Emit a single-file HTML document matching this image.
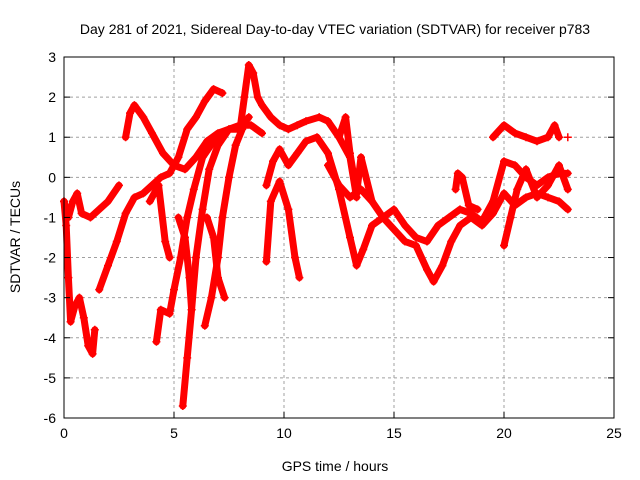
<!DOCTYPE html>
<html><head><meta charset="utf-8"><style>
body{margin:0;background:#fff;}
svg{display:block;font-family:"Liberation Sans",sans-serif;}
</style></head><body>
<svg id="chart" width="640" height="480">
<rect width="640" height="480" fill="#fff"/>
<text x="335" y="34" text-anchor="middle" font-size="14">Day 281 of 2021, Sidereal Day-to-day VTEC variation (SDTVAR) for receiver p783</text>
<text x="335" y="471" text-anchor="middle" font-size="14">GPS time / hours</text>
<text transform="translate(20,237) rotate(-90)" text-anchor="middle" font-size="14">SDTVAR / TECUs</text>
<g id="grid"></g><g id="series"></g><g id="axes"></g>
</svg>
<script>
const xTicks=[0,5,10,15,20,25];
const yTicks=[3,2,1,0,-1,-2,-3,-4,-5,-6];
const traces=[
[[0,-0.6],[0.1,-1.2],[0.2,-2.5],[0.3,-3.6],[0.5,-3.2],[0.7,-3.0],[0.9,-3.5],[1.1,-4.2],[1.3,-4.4],[1.4,-3.8]],
[[0,-0.6],[0.2,-1.0],[0.4,-0.6],[0.6,-0.4],[0.8,-0.9],[1.2,-1.0],[1.6,-0.8],[2.0,-0.6],[2.5,-0.2]],
[[1.6,-2.8],[2.0,-2.2],[2.4,-1.6],[2.8,-0.9],[3.2,-0.5],[3.6,-0.4],[4.0,-0.2],[4.4,0],[4.8,0.1],[5.2,0.5],[5.6,1.2],[6.0,1.5],[6.4,1.9],[6.8,2.2],[7.2,2.1]],
[[2.8,1.0],[3.0,1.6],[3.2,1.8],[3.6,1.5],[4.0,1.1],[4.5,0.6],[5.0,0.3],[5.5,0.2],[6.0,0.5],[6.5,0.9],[7.0,1.1],[7.5,1.2],[8.0,1.3],[8.5,1.3],[9.0,1.1]],
[[4.2,-4.1],[4.4,-3.3],[4.8,-3.4],[5.0,-2.8],[5.3,-2.0],[5.6,-1.0],[5.9,-0.3],[6.3,0.5],[6.8,0.9],[7.3,1.1]],
[[5.4,-5.7],[5.6,-4.5],[5.8,-3.3],[6.0,-2.0],[6.3,-0.8],[6.6,0.2],[7.0,0.8],[7.5,1.2],[8.0,1.2],[8.4,1.5]],
[[5.2,-1.0],[5.5,-1.5],[5.7,-2.5],[5.8,-3.3]],
[[6.4,-3.7],[6.7,-3.0],[7.0,-2.0],[7.2,-1.0],[7.5,0],[7.8,0.8],[8.1,1.2]],
[[6.5,-1.0],[6.8,-1.5],[7.0,-2.5],[7.3,-3.0]],
[[8.0,1.2],[8.2,2.0],[8.4,2.8],[8.6,2.6],[8.8,2.0],[9.0,1.8],[9.4,1.5],[9.8,1.3],[10.2,1.2],[10.6,1.3],[11.0,1.4],[11.6,1.5],[12.0,1.4],[12.5,1.0],[13.0,0.5],[13.3,-0.5]],
[[9.2,-2.1],[9.4,-0.6],[9.8,-0.1],[10.2,-0.8],[10.5,-2.0],[10.7,-2.5]],
[[9.2,-0.2],[9.5,0.4],[9.8,0.7],[10.2,0.3],[10.6,0.6],[11.0,0.9],[11.5,1.0],[12.0,0.6],[12.5,-0.3],[13.0,-1.5],[13.3,-2.2],[13.6,-1.8],[14.0,-1.2],[14.5,-1.0],[15.0,-1.3],[15.5,-1.6],[16.0,-1.7],[16.5,-2.3],[16.8,-2.6],[17.2,-2.2],[17.6,-1.6],[18.0,-1.2],[18.5,-1.0],[19.0,-1.2],[19.5,-0.9],[20.0,-0.4],[20.5,-0.7],[21.0,-0.5],[21.5,-0.4],[22.0,-0.5],[22.5,-0.6],[22.9,-0.8]],
[[12.0,0.3],[12.5,-0.2],[13.0,-0.5],[13.5,-0.3],[14.0,-0.6],[14.5,-1.0],[15.0,-0.8],[15.5,-1.2],[16.0,-1.5],[16.5,-1.6],[17.0,-1.2],[17.5,-1.0],[18.0,-0.8],[18.5,-0.9],[19.0,-1.1],[19.5,-0.6],[20.0,0.4],[20.5,0.3],[21.0,0],[21.5,-0.2],[22.0,0],[22.5,0.1],[22.9,0.1]],
[[19.5,1.0],[20.0,1.3],[20.5,1.1],[21.0,1.0],[21.5,0.9],[22.0,1.0],[22.3,1.3],[22.5,1.0]],
[[22.9,1.0]],
[[17.8,-0.3],[17.9,0.1],[18.1,0],[18.4,-0.7],[18.8,-0.8]],
[[12.5,1.0],[12.8,1.5],[13.0,0.6],[13.3,-0.4],[13.5,0.5],[14.0,-0.6]],
[[20.0,-1.7],[20.3,-1.0],[20.6,-0.3],[21.0,0.2],[21.5,-0.5],[22.0,-0.2],[22.5,0.3],[22.9,-0.3]],
[[3.9,-0.6],[4.3,-0.2],[4.6,-1.6],[4.8,-2.0]]
];
const L=64,R=614,T=57,B=418;
const X=v=>L+(v-0)/25*(R-L);
const Y=v=>T+(3-v)/9*(B-T);
const NS="http://www.w3.org/2000/svg";
const mk=(tag,attrs,parent)=>{const e=document.createElementNS(NS,tag);for(const k in attrs)e.setAttribute(k,attrs[k]);parent.appendChild(e);return e;};
const grid=document.getElementById('grid'),axes=document.getElementById('axes'),ser=document.getElementById('series');
xTicks.forEach(t=>{
 if(t>0&&t<25){const g=mk('line',{x1:X(t),x2:X(t),y1:T,y2:B,stroke:'#a0a0a0','stroke-dasharray':'3,3'},grid);
 
 }
 mk('line',{x1:X(t),x2:X(t),y1:B,y2:B-6,stroke:'#000'},axes);
 mk('line',{x1:X(t),x2:X(t),y1:T,y2:T+6,stroke:'#000'},axes);
 const tx=mk('text',{x:X(t),y:B+20,'text-anchor':'middle','font-size':14},axes);tx.textContent=t;
 
 
});
yTicks.forEach(t=>{
 if(t<3&&t>-6){const g=mk('line',{x1:L,x2:R,y1:Y(t),y2:Y(t),stroke:'#a0a0a0','stroke-dasharray':'3,3'},grid);
 
 }
 mk('line',{x1:L,x2:L+6,y1:Y(t),y2:Y(t),stroke:'#000'},axes);
 mk('line',{x1:R,x2:R-6,y1:Y(t),y2:Y(t),stroke:'#000'},axes);
 const tx=mk('text',{x:L-8,y:Y(t)+5,'text-anchor':'end','font-size':14},axes);tx.textContent=t;
 
 
});
const fr=mk('rect',{x:L,y:T,width:R-L,height:B-T,fill:'none',stroke:'#000'},axes);


traces.forEach((tr,i)=>{
 const g=mk('g',{},ser);
 
 
 if(tr.length>1)mk('polyline',{points:tr.map(p=>X(p[0])+','+Y(p[1])).join(' '),fill:'none',stroke:'#f00','stroke-width':7,'stroke-linejoin':'round','stroke-linecap':'round'},g);
 tr.forEach(p=>{const x=X(p[0]),y=Y(p[1]);
  mk('path',{d:`M${x-4},${y}H${x+4}M${x},${y-4}V${y+4}`,stroke:'#f00','stroke-width':1.5},g);});
});
</script>
</body></html>
